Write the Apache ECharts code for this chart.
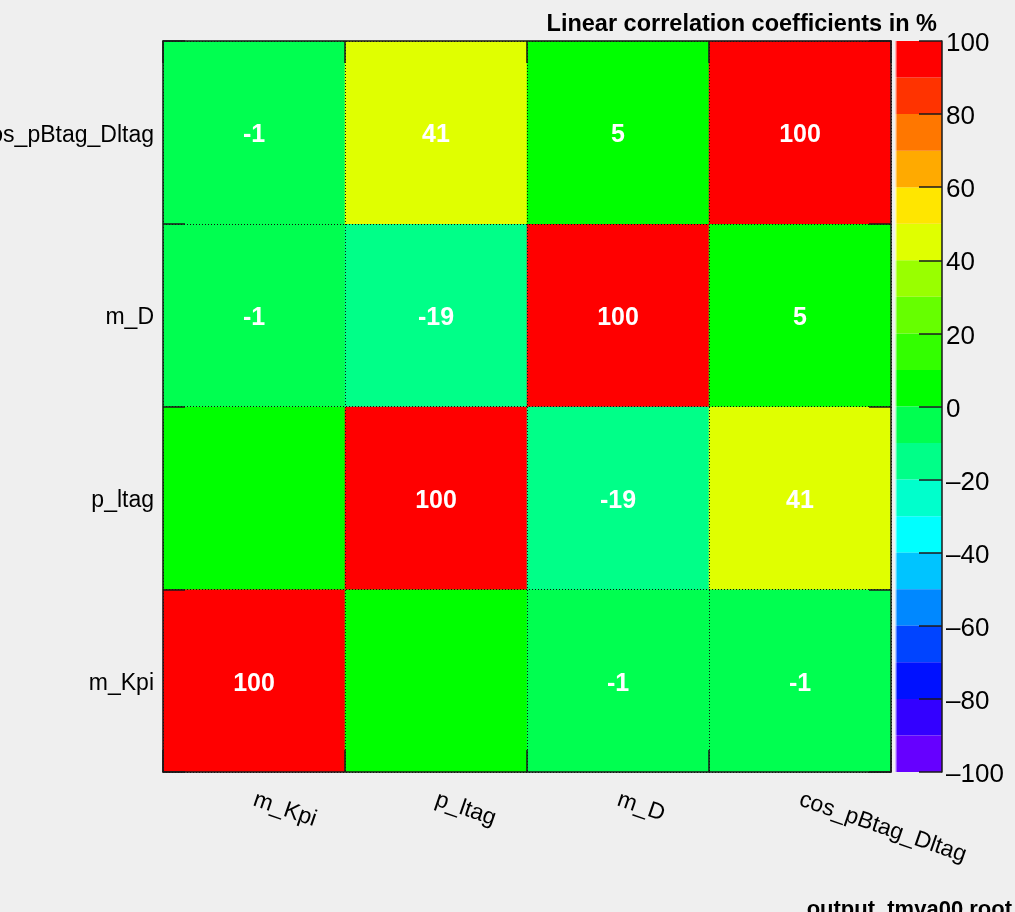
<!DOCTYPE html>
<html>
<head>
<meta charset="utf-8">
<style>
  html, body { margin: 0; padding: 0; background: #efefef; }
  #chart { width: 1015px; height: 912px; }
</style>
<script src="https://cdn.jsdelivr.net/npm/echarts@6/dist/echarts.min.js"></script>
</head>
<body>
<div id="chart"></div>
<script>
// Input variables of the correlation matrix (x: left to right, y: bottom to top)
const variables = ['m_Kpi', 'p_ltag', 'm_D', 'cos_pBtag_Dltag'];

// Linear correlation coefficients in %, one row per y variable (bottom row first)
const corrRows = [
  [100,   0,  -1,  -1],   // m_Kpi
  [  0, 100, -19,  41],   // p_ltag
  [ -1, -19, 100,   5],   // m_D
  [ -1,  41,   5, 100]    // cos_pBtag_Dltag
];

// Colour palette: bin edges and one colour per bin (from -100 up to 100)
const paletteEdges = [-100, -90, -80, -70, -60, -50, -40, -30, -20, -10, 0,
                      10, 20, 30, 40, 50, 60, 70, 80, 90, 100];
const paletteColors = [
  '#6600ff', '#3300ff', '#0011ff', '#0044ff', '#0088ff',
  '#00c4ff', '#00ffff', '#00ffcc', '#00ff88', '#00ff50',
  '#00ff00', '#33ff00', '#66ff00', '#99ff00', '#e0ff00',
  '#ffe600', '#ffaa00', '#ff7700', '#ff3300', '#ff0000'
];

const FONT = '"Liberation Sans", Arial, Helvetica, sans-serif';
const FRAME = '#1a1a1a';

// heatmap cells [x, y, value]
const cells = [];
corrRows.forEach((row, yi) => row.forEach((v, xi) => cells.push([xi, yi, v])));

// visualMap pieces from the palette
const pieces = paletteColors.map((c, i) => {
  const p = { gte: paletteEdges[i], color: c };
  if (i === paletteColors.length - 1) p.lte = paletteEdges[i + 1];
  else p.lt = paletteEdges[i + 1];
  return p;
});

// colour bar: stacked segments, positives stacked upward from 0, negatives downward
const barSeries = [];
const binOrder = paletteColors.map((c, i) => i);
const posBins = binOrder.filter(i => paletteEdges[i] >= 0);
const negBins = binOrder.filter(i => paletteEdges[i] < 0).reverse();
posBins.concat(negBins).forEach(i => {
  const lo = paletteEdges[i], hi = paletteEdges[i + 1];
  barSeries.push({
    type: 'bar',
    xAxisIndex: 2,
    yAxisIndex: 2,
    stack: 'palette',
    barWidth: '100%',
    silent: true,
    itemStyle: { color: paletteColors[i] },
    data: [lo >= 0 ? hi - lo : lo - hi]
  });
});

const fmtSigned = v => (v < 0 ? '\u2013' + Math.abs(v) : String(v));

const dottedSplit = { show: true, lineStyle: { color: '#111', width: 1, type: [1, 2] } };
const frameLine = { show: true, lineStyle: { color: FRAME, width: 1.5 } };
const innerTick = { show: true, inside: true, length: 22, lineStyle: { color: FRAME, width: 1.5 } };

const chart = echarts.init(document.getElementById('chart'), null, { renderer: 'canvas' });

chart.setOption({
  backgroundColor: '#efefef',
  animation: false,
  textStyle: { fontFamily: FONT },
  grid: [
    { left: 163, top: 41, right: 124, bottom: 140, containLabel: false, outerBoundsMode: 'none' },
    { left: 895, top: 41, width: 47, bottom: 140, containLabel: false, outerBoundsMode: 'none' }
  ],
  xAxis: [
    {
      type: 'category', gridIndex: 0, data: variables, position: 'bottom', z: 5,
      axisLine: frameLine, axisTick: innerTick, splitLine: dottedSplit,
      axisLabel: { rotate: -19, margin: 27, fontSize: 23, color: '#000', fontFamily: FONT, interval: 0 }
    },
    {
      type: 'category', gridIndex: 0, data: variables, position: 'top', z: 5,
      axisLine: frameLine, axisTick: innerTick, splitLine: { show: false },
      axisLabel: { show: false }
    },
    {
      type: 'category', gridIndex: 1, data: [''],
      axisLine: { show: false }, axisTick: { show: false }, axisLabel: { show: false },
      splitLine: { show: false }
    }
  ],
  yAxis: [
    {
      type: 'category', gridIndex: 0, data: variables, position: 'left', z: 5,
      axisLine: frameLine, axisTick: innerTick, splitLine: dottedSplit,
      axisLabel: {
        margin: 9, interval: 0,
        formatter: v => '{n|' + v + '}',
        rich: { n: { fontSize: 23, color: '#000', fontFamily: FONT, padding: [6, 0, 0, 0] } }
      }
    },
    {
      type: 'category', gridIndex: 0, data: variables, position: 'right', z: 5,
      axisLine: frameLine, axisTick: innerTick, splitLine: { show: false },
      axisLabel: { show: false }
    },
    {
      type: 'value', gridIndex: 1, position: 'right', z: 5,
      min: -100, max: 100, interval: 20,
      axisLine: { show: true, lineStyle: { color: FRAME, width: 1.5 } },
      axisTick: { show: true, inside: true, length: 23, lineStyle: { color: FRAME, width: 1.5 } },
      splitLine: { show: false },
      axisLabel: {
        margin: 4,
        formatter: v => '{n|' + fmtSigned(v) + '}',
        rich: { n: { fontSize: 26, color: '#000', fontFamily: FONT, padding: [6, 0, 0, 0] } }
      }
    }
  ],
  visualMap: {
    type: 'piecewise', show: false, seriesIndex: 0, dimension: 2, pieces: pieces
  },
  series: [
    {
      type: 'heatmap',
      xAxisIndex: 0,
      yAxisIndex: 0,
      data: cells,
      itemStyle: { borderWidth: 0 },
      label: {
        show: true,
        color: '#fff',
        fontSize: 25,
        fontWeight: 'bold',
        fontFamily: FONT,
        offset: [0, 3],
        formatter: p => (p.value[2] === 0 ? '' : String(p.value[2]))
      },
      emphasis: { disabled: true }
    }
  ].concat(barSeries),
  graphic: [
    {
      type: 'text', right: 78, top: 13,
      style: {
        text: 'Linear correlation coefficients in %',
        font: 'bold 23.5px ' + FONT, fill: '#000'
      }
    },
    {
      type: 'text', right: 3, top: 899,
      style: {
        text: 'output_tmva00.root',
        font: 'bold 22px ' + FONT, fill: '#000'
      }
    },
    {
      // thin light edge on the left side of the colour bar
      type: 'rect', left: 895, top: 41, z: 10,
      shape: { width: 1.5, height: 731 },
      style: { fill: 'rgba(255,255,255,0.7)' }
    }
  ]
});
</script>
</body>
</html>
